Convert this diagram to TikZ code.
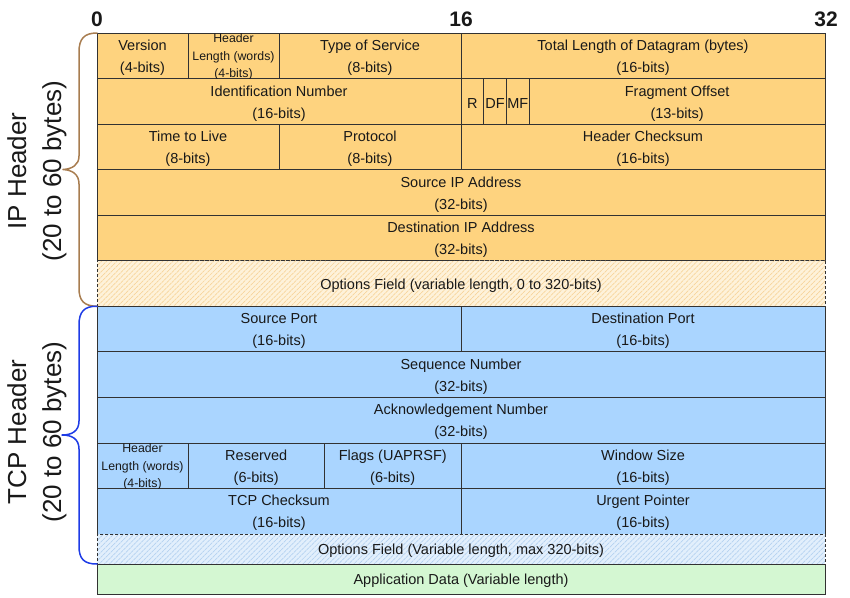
\documentclass[tikz,border=0pt]{standalone}
\usepackage{fontspec}
\setmainfont{Liberation Sans}
\usetikzlibrary{patterns.meta,calc}

\definecolor{ipfill}{RGB}{254,211,127}
\definecolor{ipopt}{RGB}{254,242,218}
\definecolor{iphatch}{RGB}{247,212,155}
\definecolor{tcpfill}{RGB}{170,213,255}
\definecolor{tcpopt}{RGB}{226,239,252}
\definecolor{tcphatch}{RGB}{180,210,240}
\definecolor{appfill}{RGB}{212,247,210}
\definecolor{ipbrace}{RGB}{168,125,80}
\definecolor{tcpbrace}{RGB}{30,60,230}
\definecolor{rulecol}{RGB}{50,50,50}
\definecolor{ink}{RGB}{25,25,25}

% one field of the header: [style] name, first bit, last bit, top, height, text
% the box is one node, its text a second node set a little below the centre
\newcommand\fld[7][]{%
  \node[cell,#1,minimum width={(#4-#3)*22.75pt},minimum height={#6*1pt}]
    (#2) at ({97+22.75*(#3+#4)/2},{#5+#6/2}) {};
  \node[celltext] (#2-text) at ([yshift=-2pt]#2.center) {#7};}

\begin{document}
\begin{tikzpicture}[x=1pt,y=-1pt,
  cell/.style={draw=rulecol, line width=0.8pt, inner sep=0pt, outer sep=0pt},
  celltext/.style={inner sep=0pt, align=center, text=ink,
    font=\fontsize{14.5}{22}\selectfont},
  ipcell/.style={fill=ipfill},
  tcpcell/.style={fill=tcpfill},
  optcell/.style={dashed, dash pattern=on 3pt off 2pt,
    pattern={Lines[angle=45,distance=3.6pt,line width=0.7pt]}},
  smalltext/.style={inner sep=0pt, align=center, text=ink,
    font=\fontsize{12.3}{17.5}\selectfont},
  bitnum/.style={inner sep=0pt, text=ink, font=\bfseries\fontsize{21}{21}\selectfont},
  sidelabel/.style={rotate=90, inner sep=0pt, align=center, text=ink,
    font=\fontsize{26}{35}\selectfont},
  bracepath/.style={line width=1.5pt, line cap=round, line join=round}]

\useasboundingbox (0,0) rectangle (850,597);

% bit numbers
\node[bitnum] (bit0)  at (97,19)  {0};
\node[bitnum] (bit16) at (461,19) {16};
\node[bitnum] (bit32) at (826,19) {32};

% ---------------- IP header ----------------
\fld[ipcell]{ver}{0}{4}{33}{45.545}{Version\\(4-bits)}
\fld[ipcell]{ihl}{4}{8}{33}{45.545}{}
\fld[ipcell]{tos}{8}{16}{33}{45.545}{Type of Service\\(8-bits)}
\fld[ipcell]{totlen}{16}{32}{33}{45.545}{Total Length of Datagram (bytes)\\(16-bits)}

\fld[ipcell]{ident}{0}{16}{78.545}{45.545}{Identification Number\\(16-bits)}
\fld[ipcell]{flr}{16}{17}{78.545}{45.545}{R}
\fld[ipcell]{fldf}{17}{18}{78.545}{45.545}{DF}
\fld[ipcell]{flmf}{18}{19}{78.545}{45.545}{MF}
\fld[ipcell]{frag}{19}{32}{78.545}{45.545}{Fragment Offset\\(13-bits)}

\fld[ipcell]{ttl}{0}{8}{124.09}{45.545}{Time to Live\\(8-bits)}
\fld[ipcell]{proto}{8}{16}{124.09}{45.545}{Protocol\\(8-bits)}
\fld[ipcell]{hcs}{16}{32}{124.09}{45.545}{Header Checksum\\(16-bits)}

\fld[ipcell]{srcip}{0}{32}{169.64}{45.545}{Source IP Address\\(32-bits)}
\fld[ipcell]{dstip}{0}{32}{215.18}{45.545}{Destination IP Address\\(32-bits)}

\fld[optcell, preaction={fill=ipopt}, pattern color=iphatch]{ipopt}{0}{32}{260.73}{45.545}{Options Field (variable length, 0 to 320-bits)}

\begin{scope}
  \clip (ihl.south west) rectangle (ihl.north east);
  \node[smalltext] (ihltext) at ($(ihl.center)+(0,1.5)$) {Header\\Length (words)\\(4-bits)};
\end{scope}

% ---------------- TCP header ----------------
\fld[tcpcell]{sport}{0}{16}{306.27}{45.545}{Source Port\\(16-bits)}
\fld[tcpcell]{dport}{16}{32}{306.27}{45.545}{Destination Port\\(16-bits)}

\fld[tcpcell]{seq}{0}{32}{351.82}{45.545}{Sequence Number\\(32-bits)}
\fld[tcpcell]{ack}{0}{32}{397.36}{45.545}{Acknowledgement Number\\(32-bits)}

\fld[tcpcell]{thl}{0}{4}{442.91}{45.545}{}
\fld[tcpcell]{resv}{4}{10}{442.91}{45.545}{Reserved\\(6-bits)}
\fld[tcpcell]{flags}{10}{16}{442.91}{45.545}{Flags (UAPRSF)\\(6-bits)}
\fld[tcpcell]{win}{16}{32}{442.91}{45.545}{Window Size\\(16-bits)}

\fld[tcpcell]{tcs}{0}{16}{488.45}{45.545}{TCP Checksum\\(16-bits)}
\fld[tcpcell]{urg}{16}{32}{488.45}{45.545}{Urgent Pointer\\(16-bits)}

\fld[optcell, preaction={fill=tcpopt}, pattern color=tcphatch]{tcpopt}{0}{32}{534}{30}{Options Field (Variable length, max 320-bits)}

\fld[fill=appfill]{appdata}{0}{32}{564}{30}{Application Data (Variable length)}

\begin{scope}
  \clip (thl.south west) rectangle (thl.north east);
  \node[smalltext] (thltext) at ($(thl.center)+(0,1.5)$) {Header\\Length (words)\\(4-bits)};
\end{scope}

% ---------------- braces and side labels ----------------
\draw[bracepath, ipbrace] (ver.north west)
  .. controls (84,33) and (79,39) .. (79,52) -- (79,156)
  .. controls (79,165) and (72,169) .. (63,169.5)
  .. controls (72,170) and (79,174) .. (79,184) -- (79,288)
  .. controls (79,301) and (84,306) .. (ipopt.south west);

\draw[bracepath, tcpbrace] (sport.north west)
  .. controls (84,306) and (79,312) .. (79,325) -- (79,421)
  .. controls (79,431) and (72,435) .. (62,435)
  .. controls (72,435) and (79,439) .. (79,449) -- (79,546)
  .. controls (79,559) and (84,564) .. (tcpopt.south west);

\node[sidelabel] (iplabel)  at (37,171) {IP Header\\(20 to 60 bytes)};
\node[sidelabel] (tcplabel) at (37,432) {TCP Header\\(20 to 60 bytes)};

\end{tikzpicture}
\end{document}
